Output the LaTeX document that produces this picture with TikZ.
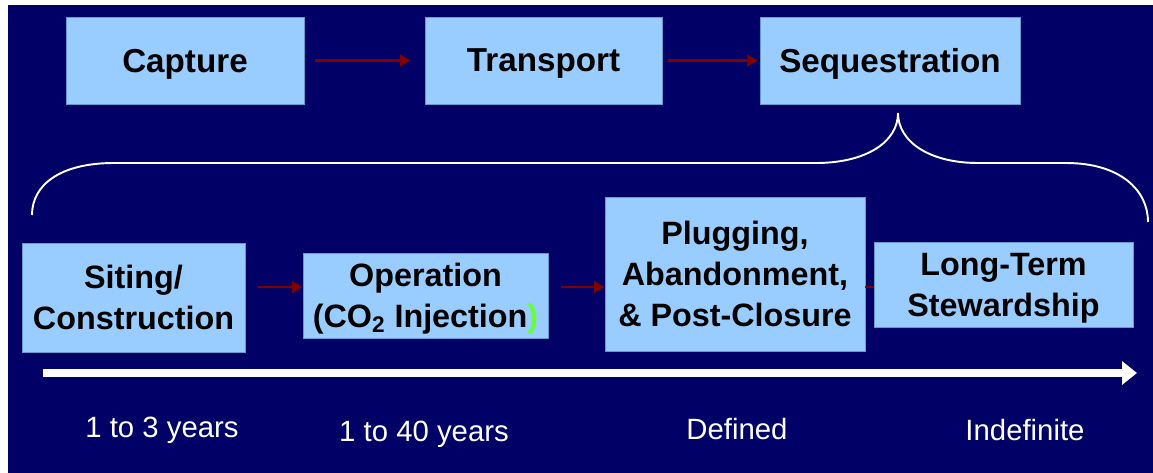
\documentclass[tikz,border=0pt]{standalone}
\usepackage{fontspec}
\setmainfont{Liberation Sans}
\usepackage{tikz}
\usetikzlibrary{arrows.meta,positioning}
\definecolor{navybg}{RGB}{0,0,102}
\definecolor{boxblue}{RGB}{153,204,255}
\definecolor{boxedge}{RGB}{102,153,204}
\definecolor{flowred}{RGB}{128,0,0}
\definecolor{parengreen}{RGB}{102,255,51}

\begin{document}
\begin{tikzpicture}[x=0.02cm, y=-0.02cm,
        stagebox/.style={fill=boxblue, draw=boxedge, line width=0.5pt, inner sep=0pt, align=center,
            font=\bfseries\fontsize{18.9}{22.7}\selectfont},
        topbox/.style={stagebox, text depth=0pt},
        phasebox/.style={stagebox, font=\bfseries\fontsize{18.4}{23.2}\selectfont},
        flow/.style={draw=flowred, line width=1.7pt, -{Triangle[length=6pt, width=6.5pt]}},
        timelabel/.style={text=white, font=\fontsize{16.7}{20}\selectfont}
    ]
        % Background and margins
        \useasboundingbox (0,0) rectangle (1153,473);
        \fill[white] (0,0) rectangle (1153,473);
        \fill[navybg] (8,5) rectangle (1153,473);

        % Top row
        \node[topbox, minimum width=4.76cm, minimum height=1.74cm] (capture) at (185,60.5) {Capture};
        \node[topbox, minimum width=4.74cm, minimum height=1.74cm] (transport) at (543.5,60.5) {Transport};
        \node[topbox, minimum width=5.2cm, minimum height=1.74cm] (sequestration) at (890,60.5) {Sequestration};
        \draw[flow, shorten <=6pt, shorten >=8pt] (capture) -- (transport);
        \draw[flow, shorten <=3pt, shorten >=1pt] (transport) -- (sequestration);

        % Brace
        \coordinate (bracetip) at (898,113);
        \draw[white, line width=1.1pt] (32,215) .. controls (32,185) and (60,163) .. (114,163)
            -- (816,163) .. controls (866,163) and (898,142) .. (bracetip)
            .. controls (898,142) and (930,163) .. (978,163)
            -- (1066,163) .. controls (1120,163) and (1148,190) .. (1148,222);

        % Bottom row
        \coordinate (row) at (0,287);
        \node[phasebox, minimum width=4.46cm, minimum height=2.18cm] (siting) at (133.5,297.5) {Siting/\\Construction};
        \node[phasebox, text depth=0pt, minimum width=4.9cm, minimum height=1.7cm] (operation) at (425.5,295.5)
            {Operation\\(CO\textsubscript{2} Injection\textcolor{parengreen}{)}};
        \node[phasebox, minimum width=5.2cm, minimum height=3.08cm] (plugging) at (735,274)
            {Plugging,\\Abandonment,\\\& Post-Closure};
        \node[phasebox, text depth=0pt, minimum width=5.18cm, minimum height=1.7cm] (longterm) at (1003.5,284.5)
            {Long-Term\\Stewardship};
        \draw[flow, shorten <=7pt] (siting.east |- row) -- (operation.west |- row);
        \draw[flow, shorten <=7pt] (operation.east |- row) -- (plugging.west |- row);
        \draw[flowred, line width=1.7pt] (plugging.east |- row) -- (longterm.west |- row);

        % Time arrow
        \coordinate (tstart) at (43,373);
        \coordinate (tend) at (1137,373);
        \draw[white, line width=5pt, -{Triangle[length=8.5pt, width=13pt]}] (tstart) -- (tend);

        % Durations
        \node[timelabel] (dsiting) at (162,430) {1 to 3 years};
        \node[timelabel] (doperation) at (424,434) {1 to 40 years};
        \node[timelabel] (dplugging) at (737,429) {Defined};
        \node[timelabel] (dlongterm) at (1025,430) {Indefinite};

    \end{tikzpicture}
\end{document}
